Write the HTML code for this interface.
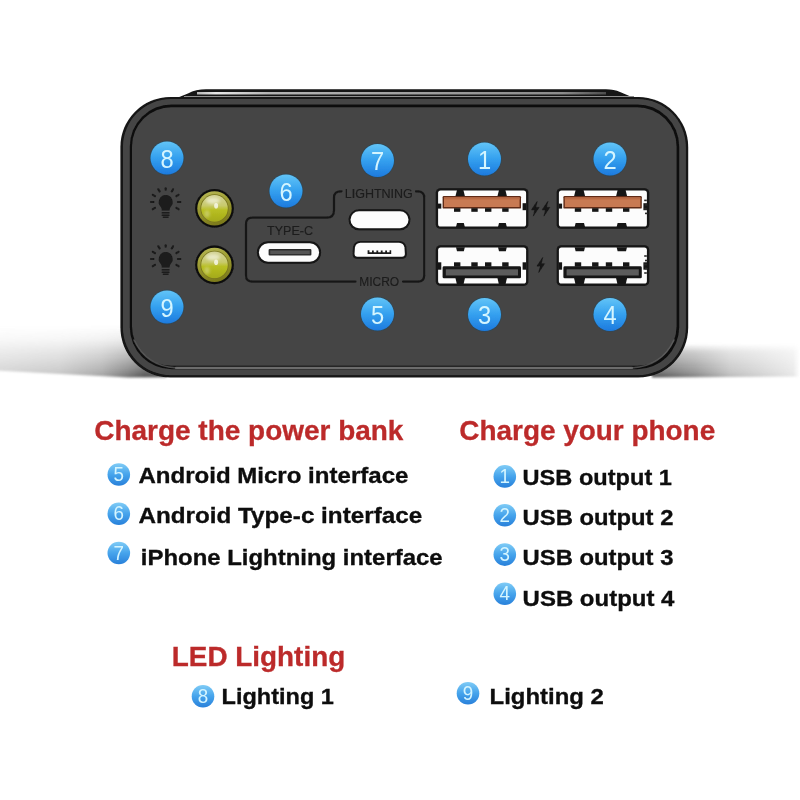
<!DOCTYPE html>
<html>
<head>
<meta charset="utf-8">
<title>Power bank ports</title>
<style>
html,body{margin:0;padding:0;background:#ffffff;}
body{width:800px;height:800px;overflow:hidden;position:relative;font-family:"Liberation Sans",sans-serif;}
svg{position:absolute;left:0;top:0;display:block;}
text{font-family:"Liberation Sans",sans-serif;}
</style>
</head>
<body>
<svg width="800" height="800" viewBox="0 0 800 800">
<defs>
  <linearGradient id="badge" x1="0" y1="0" x2="0" y2="1">
    <stop offset="0" stop-color="#62c4f7"/>
    <stop offset="0.5" stop-color="#34a0ef"/>
    <stop offset="1" stop-color="#1d7ade"/>
  </linearGradient>
  <linearGradient id="badge2" x1="0" y1="0" x2="0" y2="1">
    <stop offset="0" stop-color="#80ccf6"/>
    <stop offset="0.5" stop-color="#46a4ec"/>
    <stop offset="1" stop-color="#2880da"/>
  </linearGradient>
  <linearGradient id="led" x1="0" y1="0" x2="0" y2="1">
    <stop offset="0" stop-color="#d2d296"/>
    <stop offset="0.4" stop-color="#c8ca6c"/>
    <stop offset="0.56" stop-color="#b8bf22"/>
    <stop offset="1" stop-color="#a4aa1a"/>
  </linearGradient>
  <linearGradient id="ledring" x1="0.3" y1="0" x2="0.6" y2="1">
    <stop offset="0" stop-color="#b6b654"/>
    <stop offset="0.3" stop-color="#a2a238"/>
    <stop offset="0.7" stop-color="#8c8a26"/>
    <stop offset="1" stop-color="#7a781c"/>
  </linearGradient>
  <filter id="b1" x="-30%" y="-30%" width="160%" height="160%"><feGaussianBlur stdDeviation="1.4"/></filter>
  <filter id="b05" x="-30%" y="-30%" width="160%" height="160%"><feGaussianBlur stdDeviation="0.7"/></filter>
  <linearGradient id="shV" x1="0" y1="326" x2="0" y2="378" gradientUnits="userSpaceOnUse">
    <stop offset="0" stop-color="#808080" stop-opacity="0"/>
    <stop offset="0.25" stop-color="#808080" stop-opacity="0.18"/>
    <stop offset="0.5" stop-color="#707070" stop-opacity="0.5"/>
    <stop offset="0.8" stop-color="#5c5c5c" stop-opacity="0.78"/>
    <stop offset="1" stop-color="#484848" stop-opacity="0.95"/>
  </linearGradient>
  <linearGradient id="shV2" x1="0" y1="344" x2="0" y2="378" gradientUnits="userSpaceOnUse">
    <stop offset="0" stop-color="#777" stop-opacity="0"/>
    <stop offset="0.25" stop-color="#777" stop-opacity="0.5"/>
    <stop offset="0.8" stop-color="#666" stop-opacity="0.85"/>
    <stop offset="1" stop-color="#555" stop-opacity="1"/>
  </linearGradient>
  <linearGradient id="mLg" x1="0" y1="0" x2="170" y2="0" gradientUnits="userSpaceOnUse">
    <stop offset="0" stop-color="#fff" stop-opacity="0.28"/>
    <stop offset="0.35" stop-color="#fff" stop-opacity="0.36"/>
    <stop offset="0.6" stop-color="#fff" stop-opacity="0.55"/>
    <stop offset="0.75" stop-color="#fff" stop-opacity="0.8"/>
    <stop offset="0.85" stop-color="#fff" stop-opacity="1"/>
    <stop offset="1" stop-color="#fff" stop-opacity="1"/>
  </linearGradient>
  <linearGradient id="mRg" x1="660" y1="0" x2="800" y2="0" gradientUnits="userSpaceOnUse">
    <stop offset="0" stop-color="#fff" stop-opacity="1"/>
    <stop offset="0.25" stop-color="#fff" stop-opacity="0.75"/>
    <stop offset="0.5" stop-color="#fff" stop-opacity="0.42"/>
    <stop offset="0.95" stop-color="#fff" stop-opacity="0.16"/>
    <stop offset="1" stop-color="#fff" stop-opacity="0"/>
  </linearGradient>
  <mask id="mL" maskUnits="userSpaceOnUse" x="-10" y="320" width="200" height="70"><rect x="-10" y="320" width="200" height="70" fill="url(#mLg)"/></mask>
  <mask id="mR" maskUnits="userSpaceOnUse" x="640" y="330" width="170" height="60"><rect x="640" y="330" width="170" height="60" fill="url(#mRg)"/></mask>
  <filter id="sf" filterUnits="userSpaceOnUse" x="0" y="0" width="800" height="800"><feGaussianBlur stdDeviation="0.45"/></filter>
  <filter id="sf2" filterUnits="userSpaceOnUse" x="0" y="0" width="800" height="800"><feGaussianBlur stdDeviation="0.35"/></filter>
  <filter id="soft2" filterUnits="userSpaceOnUse" x="-10" y="300" width="820" height="100"><feGaussianBlur stdDeviation="1.3"/></filter>
  <filter id="soft1" x="-5%" y="-20%" width="110%" height="140%"><feGaussianBlur stdDeviation="0.8"/></filter>
  <linearGradient id="topstrip" x1="180" y1="0" x2="630" y2="0" gradientUnits="userSpaceOnUse">
    <stop offset="0" stop-color="#888"/>
    <stop offset="0.08" stop-color="#e8e8e8"/>
    <stop offset="0.2" stop-color="#b4b4b4"/>
    <stop offset="0.85" stop-color="#8c8c8c"/>
    <stop offset="1" stop-color="#2a2a2a"/>
  </linearGradient>
  <path id="boltp" d="M1.9,-7.4 L-3.8,1.1 L-0.5,1.1 L-2,7.4 L3.8,-1.3 L0.4,-1.3 Z" fill="#141414" stroke="#141414" stroke-width="0.5" stroke-linejoin="round"/>
<g id="bulb">
<path d="M0,-7 A7,7 0 0 1 4.6,5.2 Q3.9,6.6 3.9,8.6 L-3.9,8.6 Q-3.9,6.6 -4.6,5.2 A7,7 0 0 1 0,-7 Z" fill="#1a1a1a"/>
<rect x="-4" y="10.1" width="8" height="1.5" rx="0.6" fill="#1a1a1a"/>
<rect x="-4" y="12.4" width="8" height="1.5" rx="0.6" fill="#1a1a1a"/>
<rect x="-3" y="14.6" width="6" height="1.5" rx="0.7" fill="#1a1a1a"/>
<g stroke="#1a1a1a" stroke-width="2.1" stroke-linecap="round">
<line x1="0.00" y1="-12.30" x2="0.00" y2="-13.80"/>
<line x1="6.10" y1="-10.57" x2="7.35" y2="-12.73"/>
<line x1="-6.10" y1="-10.57" x2="-7.35" y2="-12.73"/>
<line x1="10.67" y1="-5.91" x2="12.86" y2="-7.13"/>
<line x1="-10.67" y1="-5.91" x2="-12.86" y2="-7.13"/>
<line x1="12.20" y1="-0.00" x2="14.70" y2="-0.00"/>
<line x1="-12.20" y1="-0.00" x2="-14.70" y2="-0.00"/>
<line x1="10.67" y1="5.91" x2="12.86" y2="7.13"/>
<line x1="-10.67" y1="5.91" x2="-12.86" y2="7.13"/>
</g></g>
</defs>
<!-- floor shadows -->
<g mask="url(#mL)"><polygon points="-5,326 166,326 166,377.2 128,377.4 60,374 -5,370.5" fill="url(#shV)" filter="url(#soft2)"/></g>
<g mask="url(#mR)"><polygon points="652,344 805,344 805,376.6 652,377.4" fill="url(#shV2)" filter="url(#soft2)"/></g>
<!-- device -->
<g id="device" filter="url(#sf)">
  <path d="M178,97.6 L188,93.4 Q196,89.2 206,89.2 L606,89.2 Q614,89.2 620,92 L633,97.6 Z" fill="#121212"/>
  <path d="M197,93.2 L606,93.2" stroke="url(#topstrip)" stroke-width="2.4" fill="none"/>
  <path d="M184,96.6 L634,96.6" stroke="#8e8e8e" stroke-width="1.2" fill="none"/>
  <rect x="120.4" y="97" width="567.8" height="280.6" rx="50" ry="50" fill="#131313"/>
  <rect x="122.9" y="99" width="563" height="276.2" rx="48" ry="48" fill="#454545"/>
  <rect x="129.8" y="104.4" width="549.4" height="264.8" rx="42" ry="42" fill="#0e0e0e"/>
  <rect x="132" y="107.2" width="544.6" height="258.6" rx="39.5" ry="39.5" fill="#454545"/>
  <path d="M176,367.9 L632,367.9" stroke="#6c6c6c" stroke-width="2.2" fill="none" stroke-linecap="round"/>
  <path d="M632,367.9 Q662,366 674,340" stroke="#666" stroke-width="1.6" fill="none" stroke-linecap="round" opacity="0.7"/>
  <path d="M176,367.9 Q146,366 134,340" stroke="#666" stroke-width="1.6" fill="none" stroke-linecap="round" opacity="0.7"/>
</g>
<!-- ports -->
<g id="ports" filter="url(#sf)">
<g fill="none" stroke="#181818" stroke-width="2.15" stroke-linecap="round" stroke-linejoin="round">
  <path d="M341.5,191.3 L340.5,191.3 Q334,191.3 334,197.8 L334,210.5 Q334,217.6 326.5,217.6 L252.5,217.6 Q246,217.6 246,224 L246,275.2 Q246,281.6 252.5,281.6 L355.5,281.6"/>
  <path d="M416,191.3 L417.8,191.3 Q424.2,191.3 424.2,197.8 L424.2,275.2 Q424.2,281.6 417.8,281.6 L403,281.6"/>
</g>
<text x="378.8" y="197.7" font-size="12.4" text-anchor="middle" fill="#1c1c1c" stroke="#1c1c1c" stroke-width="0.12" textLength="68" lengthAdjust="spacingAndGlyphs">LIGHTNING</text>
<text x="379.2" y="286.3" font-size="12" text-anchor="middle" fill="#1c1c1c" stroke="#1c1c1c" stroke-width="0.12" textLength="40" lengthAdjust="spacingAndGlyphs">MICRO</text>
<text x="290" y="235.2" font-size="12.2" text-anchor="middle" fill="#1c1c1c" stroke="#1c1c1c" stroke-width="0.12" textLength="46" lengthAdjust="spacingAndGlyphs">TYPE-C</text>
<rect x="256.9" y="241.3" width="64.2" height="22.4" rx="11.2" fill="#141414"/>
<rect x="258.9" y="243.3" width="60.2" height="18.4" rx="9.2" fill="#fcfcfc"/>
<rect x="268.6" y="249.1" width="42.8" height="6.4" rx="1" fill="#2c2c2c"/>
<rect x="270.2" y="250.5" width="39.6" height="3.6" fill="#555"/>
<rect x="348.5" y="209.3" width="62" height="21" rx="10.5" fill="#141414"/>
<rect x="350.5" y="211.3" width="58" height="17" rx="8.5" fill="#fcfcfc"/>
<path d="M360,240.9 L399.4,240.9 Q405.2,241.2 406.4,247 L406.8,254 Q406.8,258.7 402.4,258.7 L357,258.7 Q352.6,258.7 352.6,254 L353,247 Q354.2,241.2 360,240.9 Z" fill="#141414"/>
<path d="M360.4,242.8 L399,242.8 Q403.6,243.1 404.5,247.4 L404.9,253.8 Q404.9,256.8 402,256.8 L357.4,256.8 Q354.5,256.8 354.5,253.8 L354.9,247.4 Q355.8,243.1 360.4,242.8 Z" fill="#fcfcfc"/>
<path d="M367.6,250.2 L367.6,253.9 L391.2,253.9 L391.2,250.2 L389.6,250.2 L389.6,252.2 L387,252.2 L387,250.4 L385.2,250.4 L385.2,252.2 L382.6,252.2 L382.6,250.4 L380.8,250.4 L380.8,252.2 L378.2,252.2 L378.2,250.4 L376.4,250.4 L376.4,252.2 L373.8,252.2 L373.8,250.4 L372,250.4 L372,252.2 L369.4,252.2 L369.4,250.2 Z" fill="#1c1c1c"/>
<circle cx="214.5" cy="208.4" r="19.4" fill="#0c0c0c"/>
<circle cx="214.5" cy="208.4" r="17.2" fill="url(#ledring)"/>
<circle cx="214.5" cy="208.4" r="14.1" fill="#77741c"/>
<circle cx="214.5" cy="208.4" r="13.3" fill="url(#led)"/>
<ellipse cx="213.0" cy="200.8" rx="7" ry="3.2" fill="#f4f4e0" opacity="0.7" filter="url(#b1)"/>
<ellipse cx="207.0" cy="213.9" rx="2.6" ry="3.6" fill="#e8e8c8" opacity="0.4" filter="url(#b1)"/>
<ellipse cx="216.1" cy="205.8" rx="2" ry="2.8" fill="#fafaf0" opacity="0.8" filter="url(#b05)"/>
<circle cx="214.5" cy="264.9" r="19.4" fill="#0c0c0c"/>
<circle cx="214.5" cy="264.9" r="17.2" fill="url(#ledring)"/>
<circle cx="214.5" cy="264.9" r="14.1" fill="#77741c"/>
<circle cx="214.5" cy="264.9" r="13.3" fill="url(#led)"/>
<ellipse cx="213.0" cy="257.29999999999995" rx="7" ry="3.2" fill="#f4f4e0" opacity="0.7" filter="url(#b1)"/>
<ellipse cx="207.0" cy="270.4" rx="2.6" ry="3.6" fill="#e8e8c8" opacity="0.4" filter="url(#b1)"/>
<ellipse cx="216.1" cy="262.29999999999995" rx="2" ry="2.8" fill="#fafaf0" opacity="0.8" filter="url(#b05)"/>
<use href="#bulb" x="165.7" y="202"/>
<use href="#bulb" x="165.7" y="259"/>
<g transform="translate(436.2,188.6)">
<rect x="-0.4" y="-0.4" width="92.6" height="40.599999999999994" rx="4.4" fill="#161616"/>
<rect x="1.9" y="1.9" width="88.0" height="36.0" rx="2.6" fill="#fcfcfc"/>
<path d="M20.8,1.5 L27.199999999999996,1.5 L28.799999999999997,8 L19.2,8 Z" fill="#161616"/>
<path d="M62.800000000000004,1.5 L69.2,1.5 L70.8,8 L61.2,8 Z" fill="#161616"/>
<rect x="6.4" y="7.4" width="78.4" height="12.6" rx="1.2" fill="#5e2a14"/>
<rect x="7.8" y="8.8" width="75.6" height="9.6" fill="#c87a52"/>
<rect x="7.8" y="8.8" width="75.6" height="2" fill="#b96a44"/>
<rect x="17.8" y="19.6" width="6.4" height="3.6" fill="#161616"/>
<rect x="35.1" y="19.6" width="6.4" height="3.6" fill="#161616"/>
<rect x="48.8" y="19.6" width="6.4" height="3.6" fill="#161616"/>
<rect x="66.0" y="19.6" width="6.4" height="3.6" fill="#161616"/>
<path d="M19.8,38.3 L20.8,34.4 L27.599999999999998,34.4 L28.599999999999998,38.3 Z" fill="#161616"/>
<path d="M61.800000000000004,38.3 L62.800000000000004,34.4 L69.6,34.4 L70.6,38.3 Z" fill="#161616"/>
<rect x="1.5" y="15" width="3.6" height="5" fill="#161616"/>
<rect x="86.39999999999999" y="14.6" width="3.9" height="7" fill="#161616"/>
</g>
<g transform="translate(557,188.6)">
<rect x="-0.4" y="-0.4" width="92.6" height="40.599999999999994" rx="4.4" fill="#161616"/>
<rect x="1.9" y="1.9" width="88.0" height="36.0" rx="2.6" fill="#fcfcfc"/>
<path d="M18.6,1.5 L26.599999999999998,1.5 L28.2,8 L17.0,8 Z" fill="#161616"/>
<path d="M60.6,1.5 L68.60000000000001,1.5 L70.2,8 L59.0,8 Z" fill="#161616"/>
<rect x="6.4" y="7.4" width="78.4" height="12.6" rx="1.2" fill="#5e2a14"/>
<rect x="7.8" y="8.8" width="75.6" height="9.6" fill="#c87a52"/>
<rect x="7.8" y="8.8" width="75.6" height="2" fill="#b96a44"/>
<rect x="17.8" y="19.6" width="6.4" height="3.6" fill="#161616"/>
<rect x="35.1" y="19.6" width="6.4" height="3.6" fill="#161616"/>
<rect x="48.8" y="19.6" width="6.4" height="3.6" fill="#161616"/>
<rect x="66.0" y="19.6" width="6.4" height="3.6" fill="#161616"/>
<path d="M17.6,38.3 L18.6,34.4 L27.0,34.4 L28.0,38.3 Z" fill="#161616"/>
<path d="M59.6,38.3 L60.6,34.4 L69.0,34.4 L70.0,38.3 Z" fill="#161616"/>
<rect x="1.5" y="15" width="3.6" height="5" fill="#161616"/>
<rect x="86.39999999999999" y="14.6" width="3.9" height="7" fill="#161616"/>
<rect x="87.2" y="11" width="2.6" height="1.6" fill="#2a2a2a"/>
<rect x="88.0" y="15.5" width="2.6" height="1.6" fill="#2a2a2a"/>
<rect x="87.2" y="19.5" width="2.6" height="1.6" fill="#2a2a2a"/>
<rect x="88.0" y="24" width="2.6" height="1.6" fill="#2a2a2a"/>
</g>
<g transform="translate(436.2,245.7)">
<rect x="-0.4" y="-0.4" width="92.6" height="40.599999999999994" rx="4.4" fill="#161616"/>
<rect x="1.9" y="1.9" width="88.0" height="36.0" rx="2.6" fill="#fcfcfc"/>
<path d="M19.8,1.5 L28.599999999999998,1.5 L27.599999999999998,5.6 L20.8,5.6 Z" fill="#161616"/>
<path d="M61.800000000000004,1.5 L70.6,1.5 L69.6,5.6 L62.800000000000004,5.6 Z" fill="#161616"/>
<rect x="17.8" y="16.6" width="6.4" height="4.4" fill="#161616"/>
<rect x="35.1" y="16.6" width="6.4" height="4.4" fill="#161616"/>
<rect x="48.8" y="16.6" width="6.4" height="4.4" fill="#161616"/>
<rect x="66.0" y="16.6" width="6.4" height="4.4" fill="#161616"/>
<rect x="6.4" y="20.6" width="78.4" height="12" rx="1.4" fill="#161616"/>
<rect x="9.6" y="23.6" width="72.2" height="6.2" fill="#5c5c5c"/>
<path d="M19.2,32 L28.799999999999997,32 L27.4,38.3 L20.599999999999998,38.3 Z" fill="#161616"/>
<path d="M61.2,32 L70.8,32 L69.39999999999999,38.3 L62.6,38.3 Z" fill="#161616"/>
<rect x="1.5" y="16.6" width="3.6" height="7.4" fill="#161616"/>
<rect x="86.39999999999999" y="16.6" width="3.9" height="7.4" fill="#161616"/>
</g>
<g transform="translate(557,245.7)">
<rect x="-0.4" y="-0.4" width="92.6" height="40.599999999999994" rx="4.4" fill="#161616"/>
<rect x="1.9" y="1.9" width="88.0" height="36.0" rx="2.6" fill="#fcfcfc"/>
<path d="M17.6,1.5 L28.0,1.5 L27.0,5.6 L18.6,5.6 Z" fill="#161616"/>
<path d="M59.6,1.5 L70.0,1.5 L69.0,5.6 L60.6,5.6 Z" fill="#161616"/>
<rect x="17.8" y="16.6" width="6.4" height="4.4" fill="#161616"/>
<rect x="35.1" y="16.6" width="6.4" height="4.4" fill="#161616"/>
<rect x="48.8" y="16.6" width="6.4" height="4.4" fill="#161616"/>
<rect x="66.0" y="16.6" width="6.4" height="4.4" fill="#161616"/>
<rect x="6.4" y="20.6" width="78.4" height="12" rx="1.4" fill="#161616"/>
<rect x="9.6" y="23.6" width="72.2" height="6.2" fill="#5c5c5c"/>
<path d="M17.0,32 L28.2,32 L26.8,38.3 L18.4,38.3 Z" fill="#161616"/>
<path d="M59.0,32 L70.2,32 L68.8,38.3 L60.4,38.3 Z" fill="#161616"/>
<rect x="1.5" y="16.6" width="3.6" height="7.4" fill="#161616"/>
<rect x="86.39999999999999" y="16.6" width="3.9" height="7.4" fill="#161616"/>
<rect x="87.2" y="9.5" width="2.6" height="1.6" fill="#2a2a2a"/>
<rect x="88.0" y="14" width="2.6" height="1.6" fill="#2a2a2a"/>
<rect x="87.2" y="18" width="2.6" height="1.6" fill="#2a2a2a"/>
<rect x="88.0" y="22" width="2.6" height="1.6" fill="#2a2a2a"/>
<rect x="87.2" y="26.5" width="2.6" height="1.6" fill="#2a2a2a"/>
</g>
<g>
<use href="#boltp" x="535.3" y="208.7"/>
<use href="#boltp" x="546" y="208.7"/>
<use href="#boltp" x="540.8" y="265"/>
</g>
<g><circle cx="167" cy="158" r="17.2" fill="#1f4a66" opacity="0.55"/><circle cx="167" cy="158" r="16.5" fill="url(#badge)"/><text transform="translate(167,167.54) scale(0.92,1)" x="0" y="0" font-size="25.8" text-anchor="middle" fill="#d4f5ff">8</text></g>
<g><circle cx="167" cy="307" r="17.2" fill="#1f4a66" opacity="0.55"/><circle cx="167" cy="307" r="16.5" fill="url(#badge)"/><text transform="translate(167,316.54) scale(0.92,1)" x="0" y="0" font-size="25.8" text-anchor="middle" fill="#d4f5ff">9</text></g>
<g><circle cx="286" cy="191" r="17.2" fill="#1f4a66" opacity="0.55"/><circle cx="286" cy="191" r="16.5" fill="url(#badge)"/><text transform="translate(286,200.54) scale(0.92,1)" x="0" y="0" font-size="25.8" text-anchor="middle" fill="#d4f5ff">6</text></g>
<g><circle cx="377.5" cy="160.5" r="17.2" fill="#1f4a66" opacity="0.55"/><circle cx="377.5" cy="160.5" r="16.5" fill="url(#badge)"/><text transform="translate(377.5,170.04) scale(0.92,1)" x="0" y="0" font-size="25.8" text-anchor="middle" fill="#d4f5ff">7</text></g>
<g><circle cx="377.5" cy="314" r="17.2" fill="#1f4a66" opacity="0.55"/><circle cx="377.5" cy="314" r="16.5" fill="url(#badge)"/><text transform="translate(377.5,323.54) scale(0.92,1)" x="0" y="0" font-size="25.8" text-anchor="middle" fill="#d4f5ff">5</text></g>
<g><circle cx="484.5" cy="159" r="17.2" fill="#1f4a66" opacity="0.55"/><circle cx="484.5" cy="159" r="16.5" fill="url(#badge)"/><text transform="translate(484.5,168.54) scale(0.92,1)" x="0" y="0" font-size="25.8" text-anchor="middle" fill="#d4f5ff">1</text></g>
<g><circle cx="484.5" cy="314.5" r="17.2" fill="#1f4a66" opacity="0.55"/><circle cx="484.5" cy="314.5" r="16.5" fill="url(#badge)"/><text transform="translate(484.5,324.04) scale(0.92,1)" x="0" y="0" font-size="25.8" text-anchor="middle" fill="#d4f5ff">3</text></g>
<g><circle cx="610" cy="159" r="17.2" fill="#1f4a66" opacity="0.55"/><circle cx="610" cy="159" r="16.5" fill="url(#badge)"/><text transform="translate(610,168.54) scale(0.92,1)" x="0" y="0" font-size="25.8" text-anchor="middle" fill="#d4f5ff">2</text></g>
<g><circle cx="610" cy="314.5" r="17.2" fill="#1f4a66" opacity="0.55"/><circle cx="610" cy="314.5" r="16.5" fill="url(#badge)"/><text transform="translate(610,324.04) scale(0.92,1)" x="0" y="0" font-size="25.8" text-anchor="middle" fill="#d4f5ff">4</text></g>
</g>
<g id="labels" font-weight="bold" filter="url(#sf2)">
<text x="94.3" y="439.6" font-size="27.3" fill="#bc2b2b" stroke="#bc2b2b" stroke-width="0.3" textLength="309.1" lengthAdjust="spacingAndGlyphs">Charge the power bank</text>
<text x="459.3" y="439.6" font-size="27.3" fill="#bc2b2b" stroke="#bc2b2b" stroke-width="0.3" textLength="255.9" lengthAdjust="spacingAndGlyphs">Charge your phone</text>
<text x="171.8" y="665.6" font-size="27.3" fill="#bc2b2b" stroke="#bc2b2b" stroke-width="0.3" textLength="173.4" lengthAdjust="spacingAndGlyphs">LED Lighting</text>
<text x="138.4" y="482.5" font-size="22.7" fill="#0a0a0a" stroke="#0a0a0a" stroke-width="0.3" textLength="270.0" lengthAdjust="spacingAndGlyphs">Android Micro interface</text>
<text x="138.4" y="523" font-size="22.7" fill="#0a0a0a" stroke="#0a0a0a" stroke-width="0.3" textLength="283.8" lengthAdjust="spacingAndGlyphs">Android Type-c interface</text>
<text x="140.8" y="565" font-size="22.7" fill="#0a0a0a" stroke="#0a0a0a" stroke-width="0.3" textLength="301.8" lengthAdjust="spacingAndGlyphs">iPhone Lightning interface</text>
<text x="522.6" y="484.5" font-size="22.7" fill="#0a0a0a" stroke="#0a0a0a" stroke-width="0.3" textLength="149.3" lengthAdjust="spacingAndGlyphs">USB output 1</text>
<text x="522.6" y="524.5" font-size="22.7" fill="#0a0a0a" stroke="#0a0a0a" stroke-width="0.3" textLength="150.8" lengthAdjust="spacingAndGlyphs">USB output 2</text>
<text x="522.6" y="565" font-size="22.7" fill="#0a0a0a" stroke="#0a0a0a" stroke-width="0.3" textLength="150.8" lengthAdjust="spacingAndGlyphs">USB output 3</text>
<text x="522.6" y="605.5" font-size="22.7" fill="#0a0a0a" stroke="#0a0a0a" stroke-width="0.3" textLength="151.8" lengthAdjust="spacingAndGlyphs">USB output 4</text>
<text x="221.6" y="703.8" font-size="22.7" fill="#0a0a0a" stroke="#0a0a0a" stroke-width="0.3" textLength="112.3" lengthAdjust="spacingAndGlyphs">Lighting 1</text>
<text x="489.6" y="703.8" font-size="22.7" fill="#0a0a0a" stroke="#0a0a0a" stroke-width="0.3" textLength="114.3" lengthAdjust="spacingAndGlyphs">Lighting 2</text>
</g>
<g id="smallbadges" filter="url(#sf2)">
<g><circle cx="118.8" cy="474.5" r="11.3" fill="url(#badge2)"/><text transform="translate(118.8,481.06) scale(0.94,1)" x="0" y="0" font-size="20" text-anchor="middle" fill="#d4f5ff">5</text></g>
<g><circle cx="118.8" cy="513.8" r="11.3" fill="url(#badge2)"/><text transform="translate(118.8,520.36) scale(0.94,1)" x="0" y="0" font-size="20" text-anchor="middle" fill="#d4f5ff">6</text></g>
<g><circle cx="118.8" cy="553" r="11.3" fill="url(#badge2)"/><text transform="translate(118.8,559.56) scale(0.94,1)" x="0" y="0" font-size="20" text-anchor="middle" fill="#d4f5ff">7</text></g>
<g><circle cx="504.8" cy="476.4" r="11.3" fill="url(#badge2)"/><text transform="translate(504.8,482.96) scale(0.94,1)" x="0" y="0" font-size="20" text-anchor="middle" fill="#d4f5ff">1</text></g>
<g><circle cx="504.8" cy="515.2" r="11.3" fill="url(#badge2)"/><text transform="translate(504.8,521.76) scale(0.94,1)" x="0" y="0" font-size="20" text-anchor="middle" fill="#d4f5ff">2</text></g>
<g><circle cx="504.8" cy="554.6" r="11.3" fill="url(#badge2)"/><text transform="translate(504.8,561.16) scale(0.94,1)" x="0" y="0" font-size="20" text-anchor="middle" fill="#d4f5ff">3</text></g>
<g><circle cx="504.8" cy="593.8" r="11.3" fill="url(#badge2)"/><text transform="translate(504.8,600.36) scale(0.94,1)" x="0" y="0" font-size="20" text-anchor="middle" fill="#d4f5ff">4</text></g>
<g><circle cx="203" cy="696.2" r="11.3" fill="url(#badge2)"/><text transform="translate(203,702.76) scale(0.94,1)" x="0" y="0" font-size="20" text-anchor="middle" fill="#d4f5ff">8</text></g>
<g><circle cx="468" cy="693.2" r="11.3" fill="url(#badge2)"/><text transform="translate(468,699.76) scale(0.94,1)" x="0" y="0" font-size="20" text-anchor="middle" fill="#d4f5ff">9</text></g>
</g>
</svg>
</body>
</html>
